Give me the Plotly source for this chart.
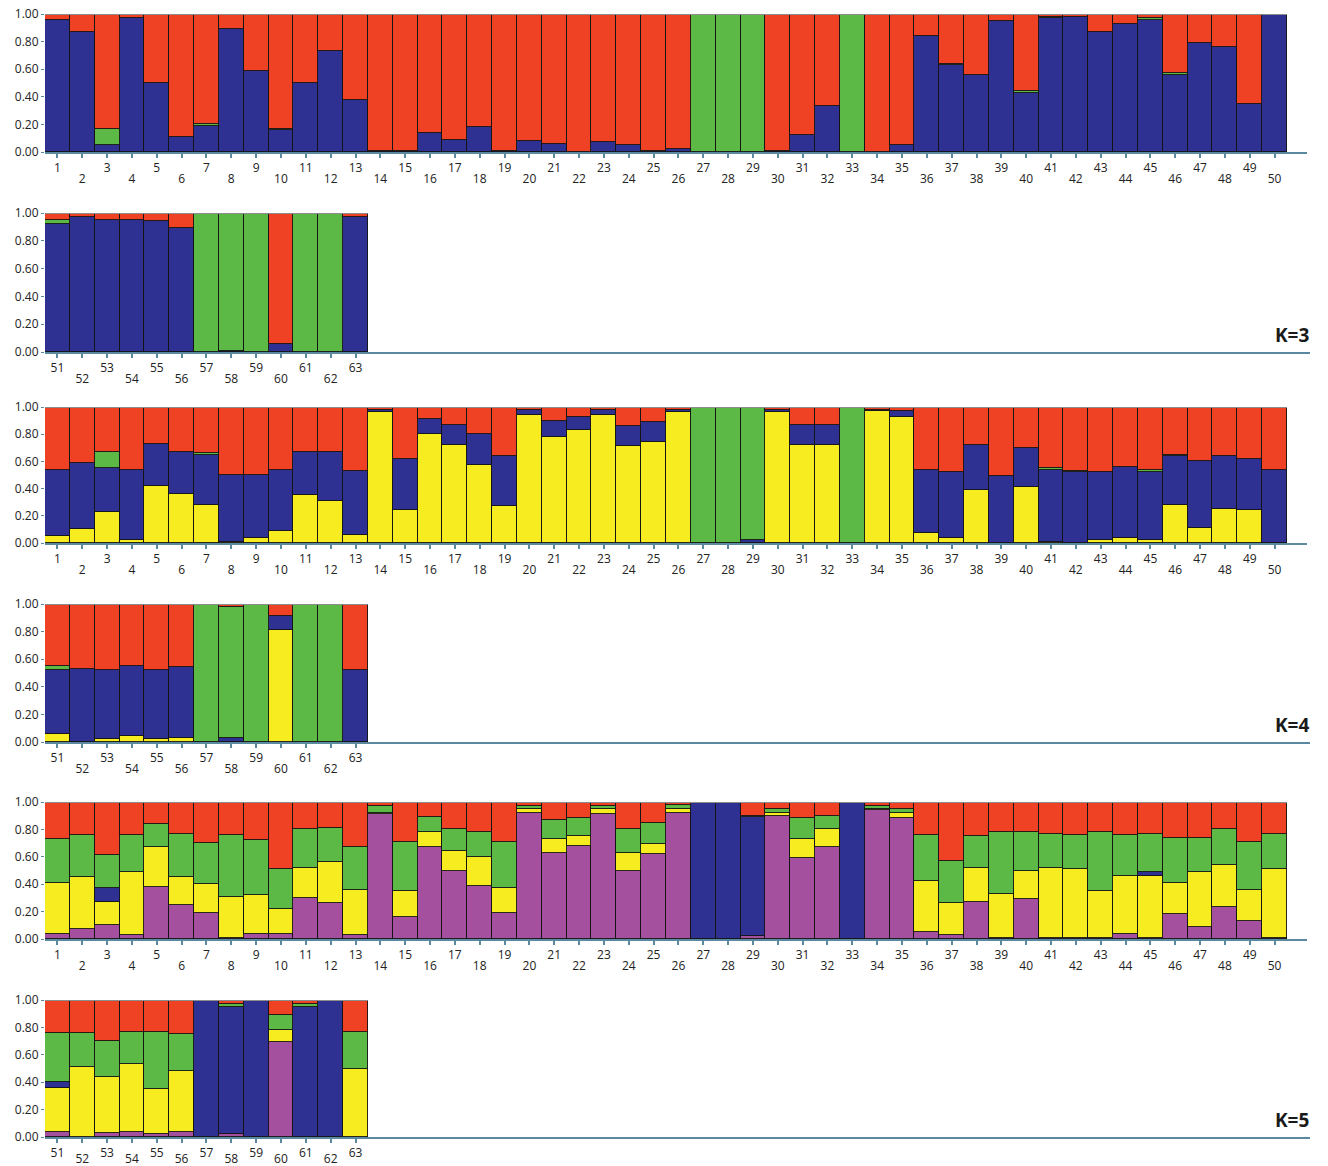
import plotly.graph_objects as go

# ---------------- data ----------------
ids = list(range(1, 64))

k3_blue = [0.96,0.87,0.05,0.97,0.50,0.11,0.19,0.89,0.59,0.16, 0.50,0.73,0.38,0.01,0.01,0.14,0.09,0.18,0.01,0.08,
           0.06,0.00,0.07,0.05,0.01,0.02,0.00,0.00,0.00,0.01, 0.12,0.33,0.00,0.00,0.05,0.84,0.63,0.56,0.95,0.43,
           0.97,0.98,0.87,0.93,0.96,0.56,0.79,0.76,0.35,0.99, 0.92,0.97,0.95,0.95,0.94,0.89,0.00,0.01,0.00,0.06,0.00,0.00,0.97]
k3_green = [0,0,0.12,0,0,0,0.01,0,0,0.01, 0,0,0,0,0,0,0,0,0,0,
            0,0,0,0,0,0,1.00,1.00,0.99,0, 0,0,0.99,0,0,0,0.01,0,0,0.01,
            0.01,0,0,0,0.01,0.01,0,0,0,0, 0.03,0,0,0,0,0,1.00,0.98,0.99,0,0.99,0.99,0]
k3_red = [0.04,0.13,0.83,0.03,0.50,0.89,0.80,0.11,0.41,0.83, 0.50,0.27,0.62,0.99,0.99,0.86,0.91,0.82,0.99,0.92,
          0.94,1.00,0.93,0.95,0.99,0.98,0.00,0.00,0.01,0.99, 0.88,0.67,0.01,1.00,0.95,0.16,0.36,0.44,0.05,0.56,
          0.02,0.02,0.13,0.07,0.03,0.43,0.21,0.24,0.65,0.01, 0.05,0.03,0.05,0.05,0.06,0.11,0.00,0.01,0.01,0.94,0.01,0.01,0.03]

k4_yellow = [0.05,0.10,0.23,0.02,0.42,0.36,0.28,0.01,0.04,0.09, 0.35,0.31,0.06,0.96,0.24,0.80,0.72,0.57,0.27,0.94,
             0.78,0.83,0.94,0.71,0.74,0.96,0,0,0,0.96, 0.72,0.72,0,0.97,0.93,0.07,0.04,0.39,0.00,0.41,
             0.01,0.00,0.02,0.04,0.02,0.28,0.11,0.25,0.24,0.00, 0.06,0.00,0.02,0.04,0.02,0.03,0,0,0,0.81,0,0,0]
k4_blue = [0.49,0.49,0.32,0.52,0.31,0.31,0.37,0.49,0.46,0.45, 0.32,0.36,0.47,0.02,0.38,0.11,0.15,0.23,0.37,0.04,
           0.12,0.10,0.04,0.15,0.15,0.02,0,0,0.02,0.02, 0.15,0.15,0,0.01,0.04,0.47,0.48,0.33,0.49,0.29,
           0.53,0.52,0.50,0.52,0.50,0.36,0.49,0.39,0.38,0.54, 0.46,0.53,0.50,0.51,0.50,0.51,0,0.03,0,0.10,0,0,0.52]
k4_green = [0,0,0.12,0,0,0,0.01,0,0,0, 0,0,0,0,0,0,0,0,0,0,
            0,0,0,0,0,0,1.00,1.00,0.97,0, 0,0,1.00,0,0,0,0,0,0,0,
            0.01,0.01,0,0,0.02,0.01,0,0,0,0, 0.03,0,0,0,0,0,1.00,0.95,1.00,0,1.00,1.00,0]
k4_red = [0.46,0.41,0.33,0.46,0.27,0.33,0.34,0.50,0.50,0.46, 0.33,0.33,0.47,0.02,0.38,0.09,0.13,0.20,0.36,0.02,
          0.10,0.07,0.02,0.14,0.11,0.02,0,0,0.01,0.02, 0.13,0.13,0,0.02,0.03,0.46,0.48,0.28,0.51,0.30,
          0.45,0.47,0.48,0.44,0.46,0.35,0.40,0.36,0.38,0.46, 0.45,0.47,0.48,0.45,0.48,0.46,0,0.02,0,0.09,0,0,0.48]

k5_purple = [0.04,0.07,0.10,0.03,0.38,0.25,0.19,0.01,0.04,0.04, 0.30,0.26,0.03,0.91,0.16,0.67,0.50,0.39,0.19,0.92,
             0.63,0.68,0.91,0.50,0.62,0.92,0,0,0.02,0.90, 0.59,0.67,0,0.94,0.88,0.05,0.03,0.27,0.01,0.29,
             0.01,0.01,0.01,0.04,0.01,0.18,0.09,0.23,0.13,0.01, 0.04,0.00,0.03,0.04,0.02,0.04,0,0.02,0,0.69,0,0,0]
k5_yellow = [0.37,0.38,0.17,0.46,0.29,0.20,0.21,0.30,0.28,0.18, 0.22,0.30,0.33,0.01,0.19,0.11,0.14,0.21,0.18,0.03,
             0.10,0.07,0.04,0.13,0.07,0.03,0,0,0,0.02, 0.14,0.13,0,0.01,0.04,0.37,0.23,0.25,0.32,0.21,
             0.51,0.50,0.34,0.42,0.45,0.23,0.40,0.31,0.23,0.50, 0.32,0.51,0.41,0.49,0.33,0.44,0,0,0,0.09,0,0,0.50]
k5_blue = [0,0,0.10,0,0,0,0,0,0,0, 0,0,0,0,0,0,0,0,0,0,
           0,0,0,0,0,0,1.00,0.99,0.87,0, 0,0,1.00,0,0,0,0,0,0,0,
           0,0,0,0,0.03,0,0,0,0,0, 0.04,0,0,0,0,0,0.99,0.93,0.99,0,0.95,1.00,0]
k5_green = [0.32,0.31,0.24,0.27,0.17,0.32,0.30,0.45,0.40,0.29, 0.28,0.25,0.31,0.05,0.36,0.11,0.16,0.18,0.34,0.02,
            0.14,0.13,0.02,0.17,0.16,0.03,0,0,0.01,0.03, 0.15,0.10,0,0.02,0.03,0.34,0.31,0.23,0.45,0.28,
            0.25,0.25,0.43,0.30,0.28,0.33,0.25,0.26,0.35,0.26, 0.36,0.25,0.26,0.24,0.42,0.27,0,0.02,0,0.11,0.02,0,0.27]
k5_red = [0.27,0.24,0.39,0.24,0.16,0.23,0.30,0.24,0.28,0.49, 0.20,0.19,0.33,0.03,0.29,0.11,0.20,0.22,0.29,0.03,
          0.13,0.12,0.03,0.20,0.15,0.02,0,0.01,0.10,0.05, 0.12,0.10,0,0.03,0.05,0.24,0.43,0.25,0.22,0.22,
          0.23,0.24,0.22,0.24,0.23,0.26,0.26,0.20,0.29,0.23, 0.24,0.24,0.30,0.23,0.23,0.25,0.01,0.03,0.01,0.11,0.03,0,0.23]

y_ticks = [0.0, 0.2, 0.4, 0.6, 0.8, 1.0]
y_ticklabels = ["0.00", "0.20", "0.40", "0.60", "0.80", "1.00"]

# ---------------- styling ----------------
C_BLUE = "#2e3192"
C_RED = "#ef4123"
C_GREEN = "#5cb946"
C_YELLOW = "#f7ec1f"
C_PURPLE = "#a5509f"

K3 = [(k3_blue, C_BLUE), (k3_green, C_GREEN), (k3_red, C_RED)]
K4 = [(k4_yellow, C_YELLOW), (k4_blue, C_BLUE), (k4_green, C_GREEN), (k4_red, C_RED)]
K5 = [(k5_purple, C_PURPLE), (k5_yellow, C_YELLOW), (k5_blue, C_BLUE), (k5_green, C_GREEN), (k5_red, C_RED)]

W, H = 1328, 1166
BAR_PX = 24.84
X0_PX = 45

# (series, slice, top px, bottom px, right px of axis, K label, even-label standoff)
panels = [
    (K3, slice(0, 50), 14, 152, 1307, None, 12),
    (K3, slice(50, 63), 213, 352, 1310, "K=3", 12),
    (K4, slice(0, 50), 407, 543, 1307, None, 12),
    (K4, slice(50, 63), 604, 742, 1310, "K=4", 12),
    (K5, slice(0, 50), 802, 939, 1307, None, 12),
    (K5, slice(50, 63), 1000, 1137, 1310, "K=5", 7),
]

AXIS_COL = "#5b8aa0"
FONT = "Open Sans"
NP = len(panels)

fig = go.Figure()
layout = {}
shapes = []
annotations = []

for i, (series, sl, top, bot, right, klab, even_off) in enumerate(panels, start=1):
    xa = "x" if i == 1 else f"x{i}"
    ya = "y" if i == 1 else f"y{i}"
    xe = f"x{i + NP}"  # overlay axis carrying the lower (even) labels
    sub_ids = ids[sl]
    pos = list(range(1, len(sub_ids) + 1))
    for vals, col in series:
        fig.add_trace(go.Bar(
            x=pos, y=vals[sl], xaxis=xa, yaxis=ya, width=1.0,
            marker=dict(color=col, line=dict(color="#141414", width=0.9)),
            showlegend=False, hoverinfo="skip"))
    # invisible anchor trace so the overlay label axis is drawn
    fig.add_trace(go.Scatter(x=[pos[0]], y=[0], xaxis=xe, yaxis=ya, mode="markers",
                             marker=dict(opacity=0, size=1), showlegend=False, hoverinfo="skip"))
    span = (right - X0_PX) / BAR_PX
    xrange = [0.5, 0.5 + span]
    odd_text = [str(n) if n % 2 else "" for n in sub_ids]
    even_pos = [p for p, n in zip(pos, sub_ids) if n % 2 == 0]
    even_text = [str(n) for n in sub_ids if n % 2 == 0]
    layout["xaxis" if i == 1 else f"xaxis{i}"] = dict(
        domain=[X0_PX / W, right / W], anchor=ya, automargin=False,
        range=xrange, tickmode="array", tickvals=pos, ticktext=odd_text,
        showline=True, linecolor=AXIS_COL, linewidth=2,
        ticks="outside", ticklen=4, tickwidth=2, tickcolor=AXIS_COL,
        tickfont=dict(size=12, color="#222", family=FONT),
        showgrid=False, zeroline=False, fixedrange=True, tickangle=0)
    layout[f"xaxis{i + NP}"] = dict(
        domain=[X0_PX / W, right / W], anchor=ya, overlaying=xa, side="bottom",
        automargin=False, range=xrange, tickmode="array", tickvals=even_pos, ticktext=even_text,
        showline=False, ticks="outside", ticklen=4, tickwidth=1, tickcolor="rgba(0,0,0,0)",
        ticklabelstandoff=even_off,
        tickfont=dict(size=12, color="#222", family=FONT),
        showgrid=False, zeroline=False, fixedrange=True, tickangle=0)
    layout["yaxis" if i == 1 else f"yaxis{i}"] = dict(
        domain=[1 - bot / H, 1 - top / H], anchor=xa, automargin=False,
        range=[0, 1.0], tickmode="array", tickvals=y_ticks, ticktext=y_ticklabels,
        ticks="outside", ticklen=3, tickwidth=1, tickcolor=AXIS_COL,
        tickfont=dict(size=12, color="#222", family=FONT),
        showgrid=False, zeroline=False, showline=False, fixedrange=True)
    shapes.append(dict(type="line", xref=xa, yref=ya, x0=0.5, x1=len(sub_ids) + 0.5,
                       y0=1.0, y1=1.0, line=dict(color="#8c8c8c", width=2), layer="above"))
    if klab:
        annotations.append(dict(xref="paper", yref="paper", x=1311 / W, y=1 - (bot - 17) / H,
                                xanchor="right", yanchor="middle", showarrow=False,
                                text=f"<b>{klab}</b>",
                                font=dict(size=19, color="#1a1a1a", family=FONT)))

fig.update_layout(
    width=W, height=H, margin=dict(l=0, r=0, t=0, b=0, autoexpand=False),
    paper_bgcolor="white", plot_bgcolor="white",
    barmode="stack", bargap=0, showlegend=False,
    shapes=shapes, annotations=annotations, **layout)

fig.write_html("out.html", config={"displayModeBar": False},
               post_script="document.body.style.margin='0';document.body.style.overflow='hidden';")
